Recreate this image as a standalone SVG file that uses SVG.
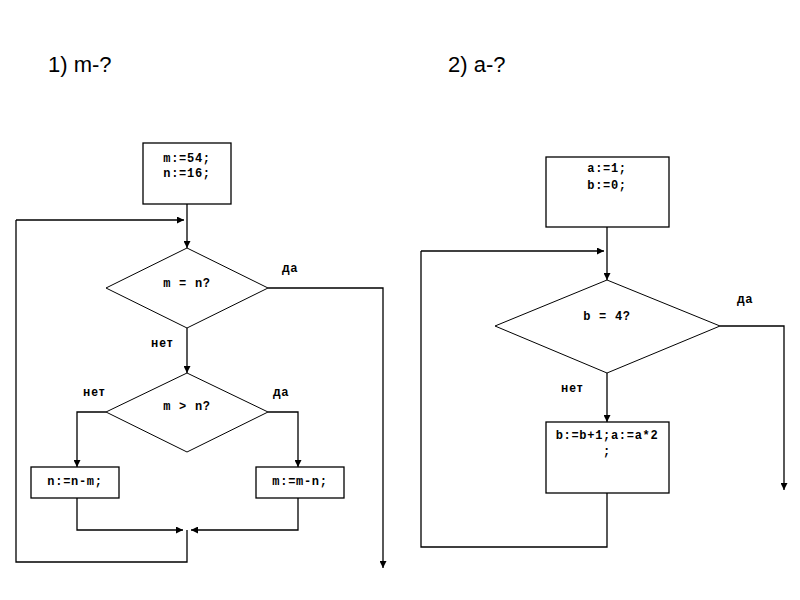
<svg xmlns="http://www.w3.org/2000/svg" width="800" height="600" viewBox="0 0 800 600">
<defs>
<marker id="ah" viewBox="0 0 10 10" refX="10" refY="5" markerWidth="7" markerHeight="7" markerUnits="userSpaceOnUse" orient="auto">
<path d="M0,0 L10,5 L0,10 z" fill="#000"/>
</marker>
</defs>
<style>
.shape{fill:#fff;stroke:#000;stroke-width:1.3}
.dia{fill:#fff;stroke:#000;stroke-width:1}
.conn{fill:none;stroke:#000;stroke-width:1.3}
.arr{marker-end:url(#ah)}
.code{font-family:"Liberation Mono","DejaVu Sans Mono",monospace;font-size:12px;font-weight:bold;letter-spacing:0.7px;text-anchor:middle;fill:#000}
.lbl{font-family:"Liberation Sans",Arial,sans-serif;font-size:12px;font-weight:bold;letter-spacing:1px;fill:#000}
.title{font-family:"Liberation Sans",Arial,sans-serif;font-size:22px;fill:#000}
</style>
<rect width="800" height="600" fill="#fff"/>
<text class="title" x="48" y="72">1) m-?</text>
<text class="title" x="448" y="72">2) a-?</text>

<g id="connectors">
<path class="conn arr" d="M187,204 V248"/>
<path class="conn arr" d="M16,220 H184"/>
<path class="conn arr" d="M268,288 H383 V568"/>
<path class="conn arr" d="M187,328 V373"/>
<path class="conn arr" d="M106,412 H77 V467"/>
<path class="conn arr" d="M268,412 H298 V467"/>
<path class="conn arr" d="M77,498 V530 H183"/>
<path class="conn arr" d="M298,498 V530 H191"/>
<path class="conn" d="M187,530 V562 H16 V220"/>
<path class="conn arr" d="M607,227 V280"/>
<path class="conn arr" d="M421,251 H604"/>
<path class="conn arr" d="M720,326 H784 V490"/>
<path class="conn arr" d="M607,373 V422"/>
<path class="conn" d="M607,493 V547 H421 V251"/>
</g>

<g id="start1">
<rect class="shape" x="143" y="143" width="88" height="61"/>
<text class="code" x="187" y="162">m:=54;</text>
<text class="code" x="187" y="177">n:=16;</text>
</g>
<g id="cond1">
<polygon class="dia" points="187,248 268,288 187,328 106,288"/>
<text class="code" x="187" y="287">m = n?</text>
</g>
<g id="cond2">
<polygon class="dia" points="187,373 268,412 187,452 106,412"/>
<text class="code" x="187" y="410">m &gt; n?</text>
</g>
<g id="boxNM">
<rect class="shape" x="31" y="467" width="88" height="31"/>
<text class="code" x="75" y="485">n:=n-m;</text>
</g>
<g id="boxMN">
<rect class="shape" x="256" y="467" width="88" height="31"/>
<text class="code" x="300" y="485">m:=m-n;</text>
</g>
<g id="labels1">
<text class="lbl" x="282" y="272">да</text>
<text class="lbl" x="151" y="347">нет</text>
<text class="lbl" x="83" y="396">нет</text>
<text class="lbl" x="273" y="396">да</text>
</g>

<g id="start2">
<rect class="shape" x="546" y="157" width="123" height="70"/>
<text class="code" x="607" y="172">a:=1;</text>
<text class="code" x="607" y="189">b:=0;</text>
</g>
<g id="cond3">
<polygon class="dia" points="607,280 720,326 607,373 495,326"/>
<text class="code" x="607" y="320">b = 4?</text>
</g>
<g id="boxBA">
<rect class="shape" x="546" y="422" width="123" height="71"/>
<text class="code" x="607" y="439">b:=b+1;a:=a*2</text>
<text class="code" x="607" y="455">;</text>
</g>
<g id="labels2">
<text class="lbl" x="737" y="303">да</text>
<text class="lbl" x="561" y="392">нет</text>
</g>
</svg>
